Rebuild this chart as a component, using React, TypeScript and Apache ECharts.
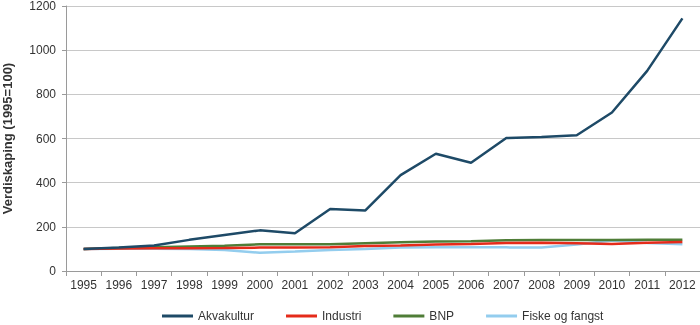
import React, { useEffect, useRef } from "react";
import * as echarts from "echarts";

const years = ["1995","1996","1997","1998","1999","2000","2001","2002","2003","2004","2005","2006","2007","2008","2009","2010","2011","2012"];
const akvakultur = [100, 106, 115, 141, 163, 184, 171, 281, 274, 434, 531, 490, 602, 607, 615, 718, 906, 1144];
const industri = [100, 102, 103, 103, 104, 106, 106, 108, 113, 116, 120, 122, 127, 128, 126, 122, 128, 131];
const bnp = [100, 104, 108, 111, 114, 121, 121, 121, 126, 130, 134, 135, 139, 140, 140, 140, 141, 141];
const fiske = [100, 101, 101, 100, 95, 83, 88, 95, 100, 106, 107, 107, 107, 106, 120, 138, 127, 121];

const names = ["Akvakultur", "Industri", "BNP", "Fiske og fangst"];
const colors = ["#1e4a67", "#e52b1a", "#4f7d37", "#93cdee"];

export default function App() {
  const ref = useRef<HTMLDivElement>(null);
  useEffect(() => {
    if (!ref.current) return;
    const chart = echarts.init(ref.current, null, { renderer: "svg" });
    const datasets = [akvakultur, industri, bnp, fiske];
    chart.setOption({
      animation: false,
      textStyle: { fontFamily: "Liberation Sans, Arial, sans-serif" },
      grid: { left: 66, right: 0, top: 6, bottom: 54, containLabel: false, outerBoundsMode: "none" },
      legend: {
        left: 162,
        top: 310,
        padding: 0,
        icon: "rect",
        itemWidth: 31,
        itemHeight: 3,
        itemGap: 32,
        textStyle: { fontSize: 12, color: "#333" },
        data: names,
      },
      xAxis: {
        type: "category",
        data: years,
        boundaryGap: true,
        axisLine: { lineStyle: { color: "#9a9a9a" } },
        axisTick: { show: true, length: 5, lineStyle: { color: "#9a9a9a" } },
        axisLabel: { fontSize: 12, color: "#333", margin: 8, interval: 0 },
      },
      yAxis: {
        type: "value",
        min: 0,
        max: 1200,
        interval: 200,
        name: "Verdiskaping (1995=100)",
        nameLocation: "middle",
        nameGap: 52,
        nameTextStyle: { fontSize: 13, fontWeight: "bold", color: "#333" },
        axisLine: { show: true, lineStyle: { color: "#9a9a9a" } },
        axisTick: { show: true, length: 4, lineStyle: { color: "#9a9a9a" } },
        axisLabel: { fontSize: 12, color: "#333", margin: 10, formatter: (v: number) => String(v) },
        splitLine: { lineStyle: { color: "#c8c8c8" } },
      },
      series: names.map((n, i) => ({
        name: n,
        type: "line",
        data: datasets[i],
        showSymbol: false,
        symbol: "none",
        z: 10 - i,
        lineStyle: { width: 2.5, color: colors[i] },
        itemStyle: { color: colors[i] },
      })),
    });
    return () => chart.dispose();
  }, []);
  return <div ref={ref} style={{ position: "fixed", left: 0, top: 0, width: 700, height: 325 }} />;
}
